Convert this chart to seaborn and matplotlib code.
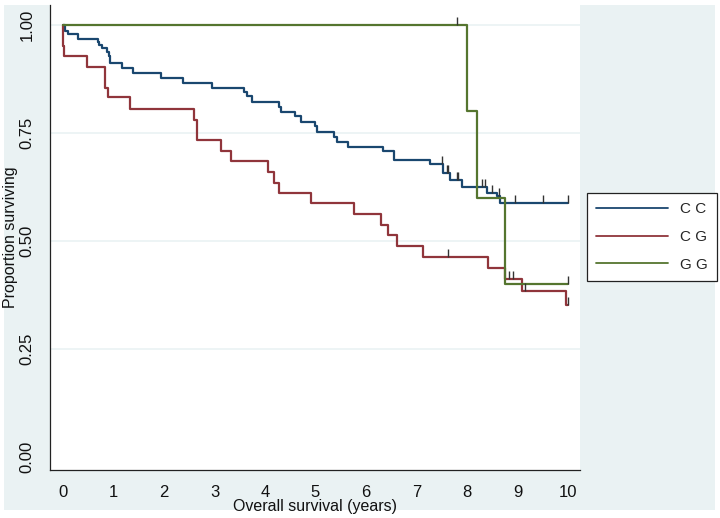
import numpy as np
import pandas as pd
import seaborn as sns
import matplotlib.pyplot as plt
from matplotlib.path import Path
from matplotlib.patches import Rectangle

# Kaplan-Meier step values (time in years, proportion surviving)
GROUPS = ["C C", "C G", "G G"]

cc_time = [0, 0.04, 0.09, 0.29, 0.69, 0.72, 0.77, 0.87, 0.92, 0.94, 1.16, 1.39,
           1.94, 2.38, 2.96, 3.59, 3.64, 3.74, 4.28, 4.32, 4.59, 4.71, 4.99, 5.04,
           5.37, 5.42, 5.64, 6.34, 6.56, 7.27, 7.53, 7.66, 7.91, 8.39, 8.59, 8.65, 10.0]
cc_surv = [1.0, 0.986, 0.979, 0.968, 0.961, 0.954, 0.946, 0.938, 0.927, 0.911, 0.900, 0.888,
           0.877, 0.865, 0.853, 0.844, 0.835, 0.821, 0.811, 0.799, 0.789, 0.776, 0.765, 0.753,
           0.741, 0.730, 0.718, 0.708, 0.688, 0.677, 0.658, 0.641, 0.625, 0.612, 0.603, 0.587, 0.587]
cc_cens_time = [7.51, 7.60, 7.63, 7.80, 7.83, 8.29, 8.36, 8.50, 8.63, 8.95, 9.50, 10.0]
cc_cens_surv = [0.677, 0.658, 0.658, 0.641, 0.641, 0.625, 0.625, 0.612, 0.603, 0.587, 0.587, 0.587]

cg_time = [0, 0.01, 0.03, 0.47, 0.83, 0.90, 1.33, 2.59, 2.65, 3.12, 3.32, 4.05, 4.18,
           4.28, 4.92, 5.77, 6.30, 6.43, 6.61, 7.12, 8.42, 8.76, 9.08, 9.96, 10.0]
cg_surv = [1.0, 0.952, 0.927, 0.903, 0.853, 0.832, 0.805, 0.780, 0.734, 0.709, 0.684, 0.660, 0.635,
           0.610, 0.587, 0.562, 0.537, 0.513, 0.489, 0.464, 0.438, 0.413, 0.385, 0.352, 0.352]
cg_cens_time = [7.62, 8.84, 8.92, 9.15, 10.0]
cg_cens_surv = [0.464, 0.413, 0.413, 0.385, 0.352]

gg_time = [0, 8.01, 8.20, 8.75, 10.0]
gg_surv = [1.0, 0.8, 0.6, 0.4, 0.4]
gg_cens_time = [7.80, 10.0]
gg_cens_surv = [1.0, 0.4]

X_TICKS = list(range(0, 11))
Y_TICKS = [0.0, 0.25, 0.5, 0.75, 1.0]

COLORS = {"C C": "#1A476F", "C G": "#90353B", "G G": "#55752F"}
BG = "#EAF2F3"

curves = pd.concat([
    pd.DataFrame({"time": cc_time, "surv": cc_surv, "group": "C C"}),
    pd.DataFrame({"time": cg_time, "surv": cg_surv, "group": "C G"}),
    pd.DataFrame({"time": gg_time, "surv": gg_surv, "group": "G G"}),
], ignore_index=True)
censored = pd.concat([
    pd.DataFrame({"time": cc_cens_time, "surv": cc_cens_surv, "group": "C C"}),
    pd.DataFrame({"time": cg_cens_time, "surv": cg_cens_surv, "group": "C G"}),
    pd.DataFrame({"time": gg_cens_time, "surv": gg_cens_surv, "group": "G G"}),
], ignore_index=True)

sns.set_style("white")
plt.rcParams["font.family"] = ["Liberation Sans", "DejaVu Sans"]

fig = plt.figure(figsize=(7.2, 5.18), dpi=100)
# light grey-blue graph region behind the white plot region
fig.patches.append(Rectangle((4 / 720, 1 - 510 / 518), 711 / 720, 505 / 518,
                             transform=fig.transFigure, facecolor=BG, edgecolor="none",
                             zorder=-10))
ax = fig.add_axes([50 / 720, 1 - 470 / 518, 530 / 720, 465 / 518], zorder=1)
ax.set_facecolor("white")

sns.lineplot(data=curves, x="time", y="surv", hue="group", hue_order=GROUPS,
             palette=COLORS, estimator=None, sort=False, drawstyle="steps-post",
             linewidth=1.6, ax=ax)

# censor ticks pointing up from the curve
tick = Path([(0, 0), (0, 1)], [Path.MOVETO, Path.LINETO])
sns.scatterplot(data=censored, x="time", y="surv", marker=tick, s=120,
                color="#333333", edgecolor="#333333", linewidth=1.0,
                legend=False, ax=ax, zorder=3)

ax.set_xlim(-0.257, 10.238)
ax.set_ylim(-0.030, 1.046)
ax.set_xticks(X_TICKS)
ax.set_yticks(Y_TICKS)
ax.set_yticklabels([f"{v:.2f}" for v in Y_TICKS], rotation=90, va="center")
ax.tick_params(axis="both", length=5, width=0.8, color="#222222", labelsize=12,
               labelcolor="#111111")
ax.tick_params(axis="y", pad=6)
ax.tick_params(axis="x", pad=6)
ax.yaxis.grid(True, color=BG, linewidth=1.2)
ax.get_ygridlines()[0].set_visible(False)
ax.xaxis.grid(False)
for side in ["top", "right"]:
    ax.spines[side].set_visible(False)
for side in ["left", "bottom"]:
    ax.spines[side].set_color("#222222")
    ax.spines[side].set_linewidth(0.9)

ax.set_xlabel("Overall survival (years)", fontsize=11.5, labelpad=-1, color="#111111")
ax.set_ylabel("Proportion surviving", fontsize=11.5, labelpad=1, color="#111111")

handles, labels = ax.get_legend_handles_labels()
leg = ax.legend(handles, labels, loc="upper left", bbox_to_anchor=(587 / 720, 1 - 193 / 518),
                bbox_transform=fig.transFigure, frameon=True, fancybox=False,
                edgecolor="#222222", facecolor="white", framealpha=1, fontsize=11,
                handlelength=4.7, handletextpad=0.8, labelspacing=0.9, borderpad=0.6,
                borderaxespad=0)
leg.get_frame().set_linewidth(0.9)
for line in leg.get_lines():
    line.set_linewidth(1.3)

fig.savefig("out.png", dpi=100, facecolor="white")
